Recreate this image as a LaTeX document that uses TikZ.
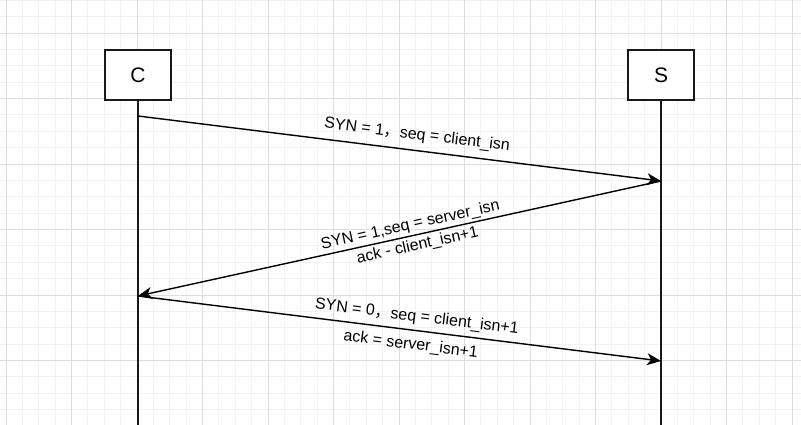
\documentclass[tikz,border=0pt]{standalone}
\usepackage{fontspec}
\setmainfont{Liberation Sans}
\newfontfamily\cjk{Noto Sans CJK SC}
\usetikzlibrary{arrows.meta}

\begin{document}
\begin{tikzpicture}[x=1pt,y=-1pt,
        minorline/.style={draw=black!5, line width=0.8pt},
        majorline/.style={draw=black!13, line width=0.8pt},
        party/.style={draw=black!90, line width=1.4pt, fill=white, minimum width=66pt,
            minimum height=50pt, inner sep=0pt, font=\fontsize{21}{24}\selectfont},
        lifeline/.style={draw=black!90, line width=1.4pt},
        msg/.style={draw=black, line width=1.4pt, -{Stealth[length=14pt,width=12pt,inset=4pt]}},
        upper/.style={sloped, anchor=south, text depth=0pt, inner xsep=0pt,
            font=\fontsize{16}{20}\selectfont},
        lower/.style={sloped, anchor=north, text height=0pt, inner xsep=0pt,
            font=\fontsize{16}{20}\selectfont}]
    \useasboundingbox (0,0) rectangle (801,425);
    \fill[white] (0,0) rectangle (801,425);
    % grid
    \foreach \k in {0,...,48} \draw[minorline] (6+16.375*\k,0) -- (6+16.375*\k,425);
    \foreach \k in {-2,...,23} \draw[minorline] (0,33+16.375*\k) -- (801,33+16.375*\k);
    \foreach \k in {0,...,12} \draw[majorline] (6+65.5*\k,0) -- (6+65.5*\k,425);
    \foreach \k in {0,...,5} \draw[majorline] (0,33+65.5*\k) -- (801,33+65.5*\k);
    % client and server
    \node[party] (C) at (138,75) {C};
    \node[party] (S) at (661,75) {S};
    \coordinate (Cend) at (138,425);
    \coordinate (Send) at (661,425);
    \draw[lifeline] (C) -- (Cend);
    \draw[lifeline] (S) -- (Send);
    % handshake
    \coordinate (c1) at (138,116);
    \coordinate (s1) at (661,181);
    \coordinate (c2) at (138,296);
    \coordinate (s2) at (661,361);
    \draw[msg] (c1) -- (s1)
        node[upper, pos=0.53, inner ysep=10.5pt] (syn) {SYN = 1{\cjk ，}seq = client\_isn};
    \draw[msg] (s1) -- (c2)
        node[upper, pos=0.475, inner ysep=5.5pt] (synack) {SYN = 1,seq = server\_isn}
        node[lower, pos=0.47, inner ysep=14.5pt] (synackb) {ack - client\_isn+1};
    \draw[msg] (c2) -- (s2)
        node[upper, pos=0.53, inner ysep=8.5pt] (ack) {SYN = 0{\cjk ，}seq = client\_isn+1}
        node[lower, pos=0.525, inner ysep=18.5pt] (ackb) {ack = server\_isn+1};
\end{tikzpicture}
\end{document}
